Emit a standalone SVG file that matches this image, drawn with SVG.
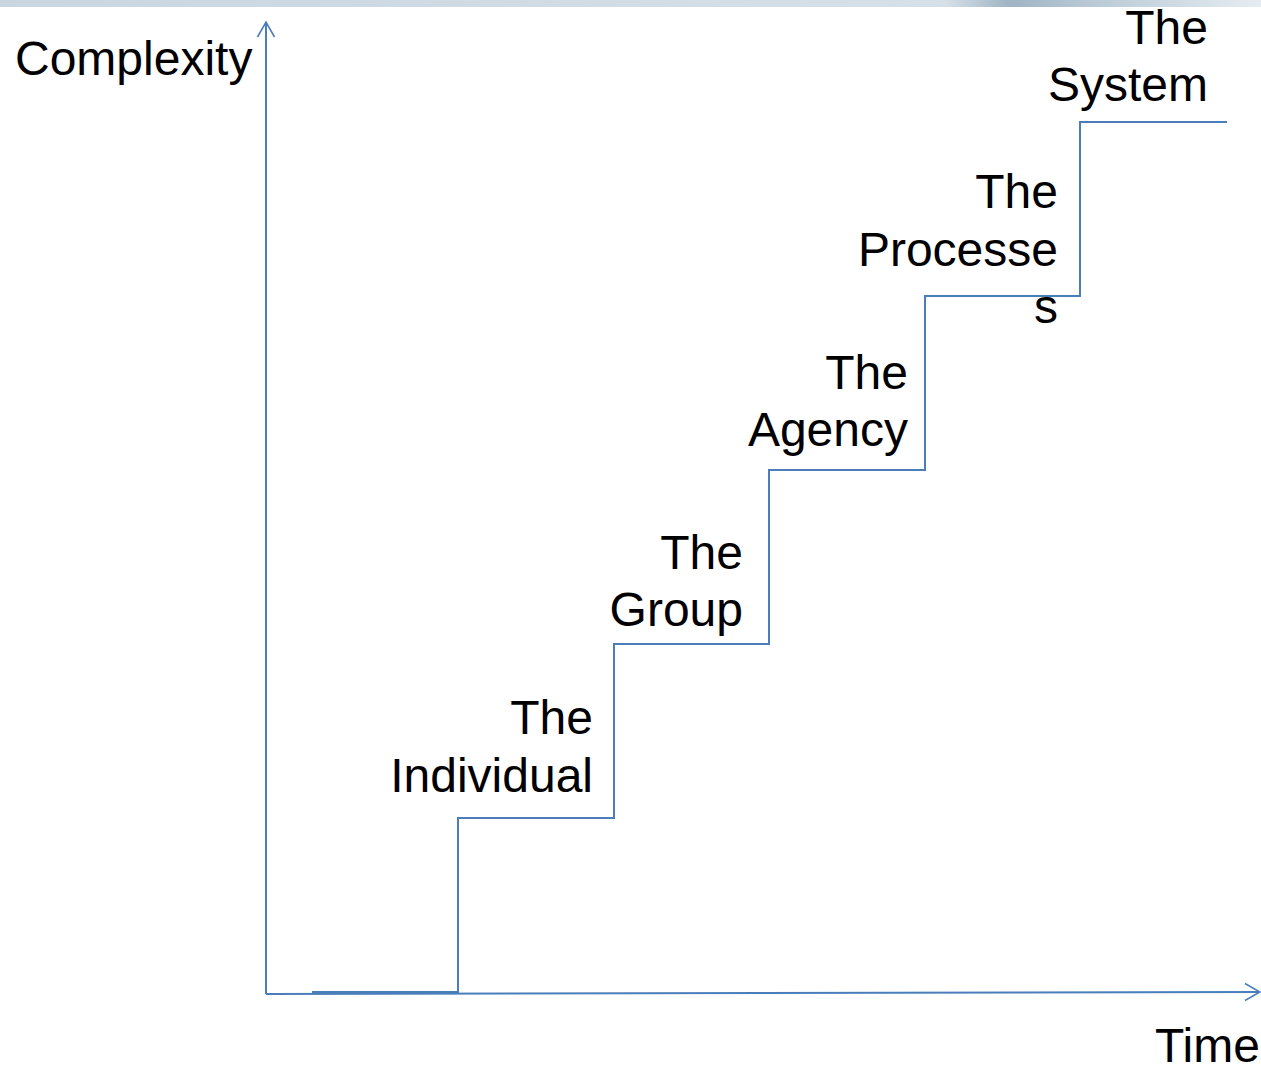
<svg xmlns="http://www.w3.org/2000/svg" width="1261" height="1070" viewBox="0 0 1261 1070">
<defs>
<style>
.t{font-family:"Liberation Sans",Arial,sans-serif;font-size:48px;fill:#000}
.e{text-anchor:end}
.ln{fill:none;stroke:#4a7ebb;stroke-width:2}
</style>
<marker id="open" markerWidth="24" markerHeight="24" refX="16" refY="12" orient="auto" markerUnits="userSpaceOnUse">
<path d="M1,3.5 L16,12 L1,20.5" fill="none" stroke="#4a7ebb" stroke-width="1.6"/>
</marker>
<linearGradient id="band" x1="0" y1="0" x2="1" y2="0">
<stop offset="0" stop-color="#c9d6e0"/>
<stop offset="0.75" stop-color="#d6e0e8"/>
<stop offset="0.8" stop-color="#9fb4c4"/>
<stop offset="0.86" stop-color="#b7c8d4"/>
<stop offset="1" stop-color="#e6edf2"/>
</linearGradient>
</defs>
<rect width="1261" height="1070" fill="#fff"/>
<rect x="0" y="0" width="1261" height="7" fill="url(#band)"/>
<g id="connectors">
<line class="ln" x1="266" y1="994" x2="266" y2="22" marker-end="url(#open)"/>
<line class="ln" x1="266" y1="994" x2="1260" y2="992" marker-end="url(#open)"/>
<polyline class="ln" points="312,992 458,992 458,818 614,818 614,644 769,644 769,470 925,470 925,296 1080,296 1080,122 1227,122"/>
<line x1="312" y1="992.5" x2="458" y2="992.5" stroke="#4a7ebb" stroke-width="3"/>
</g>
<g id="axis-y-label"><text class="t" x="15" y="75">Complexity</text></g>
<g id="axis-x-label"><text class="t" x="1155" y="1062">Time</text></g>
<g id="individual"><text class="t e" x="593" y="734">The</text><text class="t e" x="593" y="792">Individual</text></g>
<g id="group"><text class="t e" x="743" y="569">The</text><text class="t e" x="743" y="626">Group</text></g>
<g id="agency"><text class="t e" x="908" y="389">The</text><text class="t e" x="908" y="446">Agency</text></g>
<g id="processes"><text class="t e" x="1058" y="208">The</text><text class="t e" x="1058" y="266">Processe</text><text class="t e" x="1058" y="323">s</text></g>
<g id="system"><text class="t e" x="1208" y="44">The</text><text class="t e" x="1208" y="101">System</text></g>
</svg>
